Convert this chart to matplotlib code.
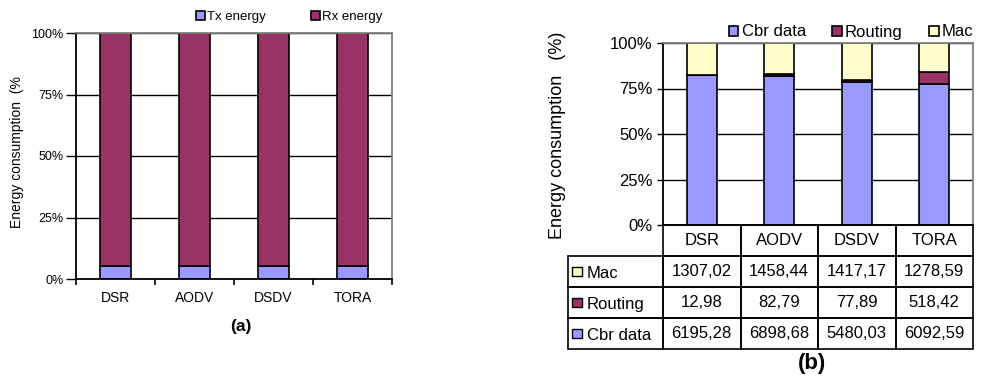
import numpy as np
import matplotlib
matplotlib.use("Agg")
import matplotlib.pyplot as plt
from matplotlib.patches import Patch, Rectangle

plt.rcParams['font.family'] = ['Liberation Sans', 'DejaVu Sans']

# =========================================================
# DATA
# =========================================================

protocols = ["DSR", "AODV", "DSDV", "TORA"]

# (a) share of Tx / Rx energy (%)
tx_energy = [5.4, 5.4, 5.4, 5.4]
rx_energy = [94.6, 94.6, 94.6, 94.6]

# (b) absolute energy per traffic class
mac_energy = [1307.02, 1458.44, 1417.17, 1278.59]
routing_energy = [12.98, 82.79, 77.89, 518.42]
cbr_energy = [6195.28, 6898.68, 5480.03, 6092.59]

# Colours
BLUE = "#9999FF"
PLUM = "#993366"
CREAM = "#FFFFCC"
GRAY = "#808080"

W, H = 999, 378

fig = plt.figure(figsize=(W / 100, H / 100), dpi=100)


def px_axes(x0, y0, x1, y1):
    # place an axes using pixel coordinates measured from the top-left
    return fig.add_axes([x0 / W, 1 - y1 / H, (x1 - x0) / W, (y1 - y0) / H])


def style_frame(ax):
    ax.spines['left'].set_color("black")
    ax.spines['bottom'].set_color("black")
    ax.spines['top'].set_color(GRAY)
    ax.spines['right'].set_color(GRAY)
    for s in ax.spines.values():
        s.set_linewidth(1.3)
    ax.yaxis.grid(True, color="black", linewidth=1.0)
    ax.set_axisbelow(True)


x = np.arange(len(protocols))

# =========================================================
# (a) TX / RX ENERGY
# =========================================================

ax_a = px_axes(76, 33, 392, 279)
ax_a.bar(x, tx_energy, width=0.39, color=BLUE, edgecolor="black", linewidth=1.2)
ax_a.bar(x, rx_energy, width=0.39, bottom=tx_energy, color=PLUM,
         edgecolor="black", linewidth=1.2)

ax_a.set_xlim(-0.5, 3.5)
ax_a.set_ylim(0, 100)
ax_a.set_yticks([0, 25, 50, 75, 100])
ax_a.set_yticklabels(["0%", "25%", "50%", "75%", "100%"])
ax_a.set_xticks(x)
ax_a.set_xticklabels(protocols)
ax_a.set_xticks(np.arange(-0.5, 4.0, 1.0), minor=True)
ax_a.tick_params(axis='x', which='major', length=0, pad=9, labelsize=10)
ax_a.tick_params(axis='x', which='minor', length=4, width=1.2, direction='out')
ax_a.tick_params(axis='y', length=7, width=1.0, pad=2, labelsize=9)
style_frame(ax_a)

fig.text(17 / W, 1 - 152 / H, "Energy consumption  (%", rotation=90,
         ha='center', va='center', fontsize=10)

ax_a.legend(handles=[Patch(facecolor=BLUE, edgecolor="black", linewidth=1.2),
                     Patch(facecolor=PLUM, edgecolor="black", linewidth=1.2)],
            labels=["Tx energy", "Rx energy"], ncol=2, frameon=False,
            fontsize=9.5, handlelength=0.65, handleheight=0.65,
            handletextpad=0.15, columnspacing=3.5, borderpad=0,
            borderaxespad=0, loc='center left',
            bbox_to_anchor=(196 / W, 1 - 17 / H), bbox_transform=fig.transFigure)

fig.text(241 / W, 1 - 326 / H, "(a)", ha='center', va='center',
         fontsize=12.5, fontweight='bold')

# =========================================================
# (b) ENERGY PER TRAFFIC CLASS
# =========================================================

mac = np.array(mac_energy)
routing = np.array(routing_energy)
cbr = np.array(cbr_energy)
total = mac + routing + cbr
cbr_pct = cbr / total * 100
routing_pct = routing / total * 100
mac_pct = mac / total * 100

ax_b = px_axes(663, 43, 973, 225)
ax_b.bar(x, cbr_pct, width=0.39, color=BLUE, edgecolor="black", linewidth=1.2)
ax_b.bar(x, routing_pct, width=0.39, bottom=cbr_pct, color=PLUM,
         edgecolor="black", linewidth=1.2)
ax_b.bar(x, mac_pct, width=0.39, bottom=cbr_pct + routing_pct, color=CREAM,
         edgecolor="black", linewidth=1.2)

ax_b.set_xlim(-0.5, 3.5)
ax_b.set_ylim(0, 100)
ax_b.set_yticks([0, 25, 50, 75, 100])
ax_b.set_yticklabels(["0%", "25%", "50%", "75%", "100%"])
ax_b.set_xticks([])
ax_b.tick_params(axis='y', length=4.5, width=1.0, pad=3, labelsize=12)
style_frame(ax_b)

fig.text(557 / W, 1 - 135 / H, "Energy consumption   (%)", rotation=90,
         ha='center', va='center', fontsize=13)

ax_b.legend(handles=[Patch(facecolor=BLUE, edgecolor="black", linewidth=1.2),
                     Patch(facecolor=PLUM, edgecolor="black", linewidth=1.2),
                     Patch(facecolor=CREAM, edgecolor="black", linewidth=1.2)],
            labels=["Cbr data", "Routing", "Mac"], ncol=3, frameon=False,
            fontsize=12, handlelength=0.55, handleheight=0.55,
            handletextpad=0.2, columnspacing=1.6, borderpad=0,
            borderaxespad=0, loc='center left',
            bbox_to_anchor=(729 / W, 1 - 32 / H), bbox_transform=fig.transFigure)

# data table under the chart
label_w = 95 / 77.5
ax_t = px_axes(568, 225, 973, 349)
ax_t.set_xlim(-0.5 - label_w, 3.5)
ax_t.set_ylim(0, 4)
ax_t.axis('off')

rows = [("Mac", CREAM, mac_energy),
        ("Routing", PLUM, routing_energy),
        ("Cbr data", BLUE, cbr_energy)]

lw = 1.2
# header row: only the data columns are boxed
for i, name in enumerate(protocols):
    ax_t.add_patch(Rectangle((i - 0.5, 3), 1, 1, fill=False, edgecolor="black",
                             linewidth=lw, clip_on=False))
    ax_t.text(i, 3.5, name, ha='center', va='center', fontsize=12)

for r, (name, colour, values) in enumerate(rows):
    y0 = 2 - r
    ax_t.add_patch(Rectangle((-0.5 - label_w, y0), label_w, 1, fill=False,
                             edgecolor="black", linewidth=lw, clip_on=False))
    ax_t.add_patch(Rectangle((-0.5 - label_w + 0.05, y0 + 0.36), 0.125, 0.3,
                             facecolor=colour, edgecolor="black", linewidth=1.0,
                             clip_on=False))
    ax_t.text(-0.5 - label_w + 0.24, y0 + 0.42, name, ha='left', va='center',
              fontsize=12)
    for i, v in enumerate(values):
        ax_t.add_patch(Rectangle((i - 0.5, y0), 1, 1, fill=False,
                                 edgecolor="black", linewidth=lw, clip_on=False))
        ax_t.text(i, y0 + 0.5, f"{v:.2f}".replace(".", ","), ha='center',
                  va='center', fontsize=12)

fig.text(812 / W, 1 - 364 / H, "(b)", ha='center', va='center',
         fontsize=16, fontweight='bold')

fig.savefig("out.png", dpi=100)
